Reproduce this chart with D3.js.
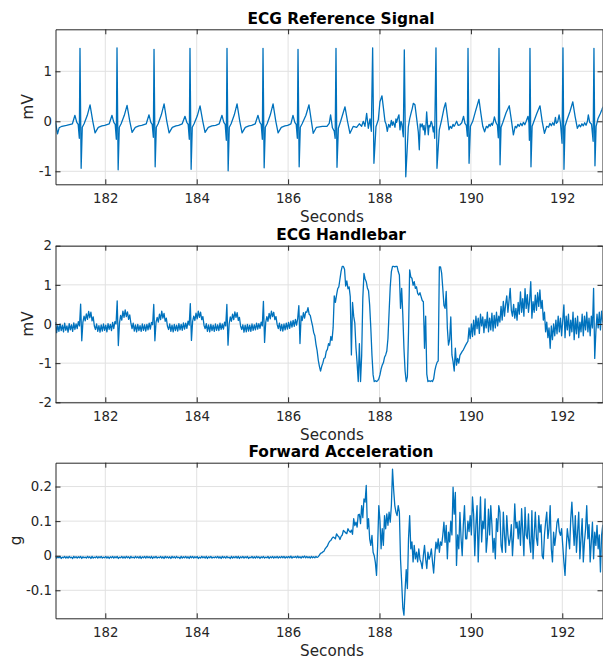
<!DOCTYPE html>
<html>
<head>
<meta charset="utf-8">
<script src="https://cdn.jsdelivr.net/npm/d3@7"></script>
<style>
  body { margin: 0; background: #ffffff; }
  svg { display: block; }
</style>
</head>
<body>
<svg id="chart" width="603" height="661"></svg>
<script>
// ---------------- DATA ----------------
const xTickValues = [182, 184, 186, 188, 190, 192];
const refTickValues = [-1, 0, 1];
const handlebarTickValues = [-2, -1, 0, 1, 2];
const accelTickValues = [-0.1, 0, 0.1, 0.2];
const panelTitles = ["ECG Reference Signal", "ECG Handlebar", "Forward Acceleration"];
const panelUnits = ["mV", "mV", "g"];
const timeLabel = "Seconds";

// ECG reference signal: [seconds, mV]
const ecgReference = [
[180.91,-0.02],[180.935,-0.15],[180.955,-0.25],[180.99,-0.13],[181.05,-0.1],[181.15,-0.08],[181.28,-0.05],[181.335,0.12],[181.376,-0.02],[181.406,-0.06],[181.431,-0.34],[181.446,1.46],[181.471,-0.94],[181.496,-0.12],[181.536,-0.05],[181.606,0.12],[181.666,0.33],[181.726,0.0],[181.776,-0.23],[181.846,-0.12],[181.926,-0.09],
[181.986,-0.08],[182.086,-0.05],[182.146,0.12],[182.186,-0.02],[182.216,-0.06],[182.241,-0.36],[182.256,1.47],[182.281,-0.97],[182.306,-0.12],[182.346,-0.05],[182.416,0.12],[182.476,0.32],[182.536,0.0],[182.586,-0.22],[182.656,-0.12],[182.736,-0.09],
[182.796,-0.08],[182.896,-0.05],[182.956,0.13],[182.996,-0.02],[183.026,-0.06],[183.051,-0.32],[183.066,1.44],[183.091,-0.91],[183.116,-0.12],[183.156,-0.05],[183.226,0.13],[183.286,0.35],[183.346,0.0],[183.396,-0.23],[183.466,-0.12],[183.546,-0.09],
[183.603,-0.08],[183.683,-0.05],[183.743,0.1],[183.783,-0.02],[183.813,-0.06],[183.838,-0.36],[183.853,1.46],[183.878,-0.96],[183.903,-0.12],[183.943,-0.05],[184.013,0.11],[184.073,0.31],[184.133,0.0],[184.183,-0.22],[184.253,-0.12],[184.333,-0.09],
[184.413,-0.08],[184.493,-0.05],[184.553,0.12],[184.593,-0.02],[184.623,-0.06],[184.648,-0.38],[184.663,1.46],[184.688,-0.99],[184.713,-0.12],[184.753,-0.05],[184.823,0.13],[184.883,0.35],[184.943,0.0],[184.993,-0.23],[185.063,-0.12],[185.143,-0.09],
[185.201,-0.08],[185.281,-0.05],[185.341,0.12],[185.381,-0.02],[185.411,-0.06],[185.436,-0.36],[185.451,1.46],[185.476,-0.93],[185.501,-0.12],[185.541,-0.05],[185.611,0.13],[185.671,0.35],[185.731,0.0],[185.781,-0.23],[185.851,-0.12],[185.931,-0.09],
[185.991,-0.08],[186.061,-0.05],[186.107,0.12],[186.147,-0.02],[186.177,-0.06],[186.202,-0.34],[186.217,1.44],[186.242,-0.91],[186.267,-0.12],[186.307,-0.05],[186.39,0.12],[186.457,0.33],[186.51,0.0],[186.55,-0.24],[186.62,-0.12],[186.75,-0.1],
[186.85,-0.1],[186.9,-0.04],[186.93,0.13],[186.97,-0.13],[187.01,-0.2],[187.03,-0.34],[187.048,1.46],[187.07,-0.92],[187.1,-0.14],[187.15,0.0],[187.245,0.29],[187.3,0.0],[187.354,-0.24],[187.427,-0.1],[187.5,-0.12],[187.558,-0.05],[187.609,-0.1],[187.646,0.0],[187.682,-0.1],[187.719,0.16],[187.755,-0.14],[187.792,0.05],[187.821,-0.2],
[187.85,1.47],[187.878,-0.84],[187.923,-0.11],[187.974,0.03],[188.01,0.39],[188.054,0.51],[188.083,0.29],[188.12,0.0],[188.145,-0.06],[188.171,-0.2],[188.2,-0.06],[188.229,-0.12],[188.26,0.02],[188.28,-0.08],[188.302,-0.01],[188.339,-0.12],[188.36,0.05],[188.375,-0.02],[188.405,0.08],[188.426,0.13],[188.448,-0.17],[188.47,0.0],[188.49,-0.06],[188.521,-0.31],[188.543,1.43],[188.575,-1.11],[188.631,-0.11],[188.66,0.05],[188.689,0.16],[188.715,0.25],[188.74,0.36],[188.776,0.33],[188.813,0.06],[188.849,-0.21],[188.871,-0.57],[188.89,-0.05],[188.908,-0.11],[188.935,-0.05],[188.959,-0.17],[188.975,-0.08],[188.995,-0.27],[189.015,-0.1],[189.032,0.19],[189.05,-0.05],[189.068,-0.27],[189.085,-0.08],[189.105,-0.11],[189.13,0.0],[189.148,-0.04],[189.178,-0.21],[189.195,-0.1],[189.207,-0.34],[189.236,1.47],[189.258,-0.94],[189.309,-0.17],[189.36,0.03],[189.411,0.26],[189.447,0.37],[189.491,0.06],[189.52,-0.17],[189.55,-0.1],[189.579,-0.14],[189.61,-0.06],[189.63,-0.1],[189.652,-0.07],[189.688,0.0],[189.72,-0.08],[189.761,-0.07],
[189.8,-0.03],[189.84,0.1],[189.87,-0.04],[189.9,-0.08],[189.922,-0.3],[189.937,1.46],[189.96,-0.84],[189.99,-0.1],[190.04,0.0],[190.1,0.2],[190.177,0.44],[190.22,0.15],[190.26,-0.1],[190.3,-0.21],[190.34,-0.1],[190.37,-0.13],[190.4,-0.06],[190.42,-0.1],[190.45,-0.04],[190.47,-0.08],[190.49,-0.02],[190.515,0.09],[190.55,-0.03],[190.58,-0.08],[190.6,-0.33],[190.615,1.46],[190.638,-0.87],[190.66,-0.12],[190.7,-0.02],[190.77,0.17],[190.84,0.31],[190.89,0.0],[190.93,-0.27],[190.97,-0.1],[191.0,-0.13],[191.03,-0.06],[191.06,-0.1],[191.09,-0.04],[191.12,-0.09],[191.15,-0.02],[191.18,-0.07],[191.21,0.0],[191.25,0.1],[191.27,-0.03],[191.28,-0.38],[191.293,1.46],[191.315,-0.91],[191.34,-0.1],[191.38,0.0],[191.44,0.15],[191.512,0.31],[191.56,0.0],[191.61,-0.24],[191.66,-0.1],[191.7,-0.12],[191.73,-0.04],[191.76,-0.09],[191.79,-0.03],[191.82,-0.08],[191.85,0.08],[191.87,-0.04],[191.9,-0.01],[191.93,0.13],[191.96,-0.03],[191.995,-0.44],[192.015,1.47],[192.037,-0.96],[192.06,-0.1],[192.1,0.02],[192.17,0.2],[192.23,0.39],[192.28,0.1],[192.33,-0.14],[192.37,-0.07],[192.4,-0.11],[192.43,-0.05],[192.46,-0.09],[192.49,-0.03],[192.52,-0.08],[192.55,0.0],[192.57,0.13],[192.6,-0.02],[192.64,-0.06],[192.675,-0.4],[192.693,1.46],[192.715,-0.89],[192.74,-0.1],[192.78,0.05],[192.83,0.15],[192.87,0.24],[192.89,0.29]
];

// Uniformly sampled signals (first sample time and sample interval in seconds)
const sampleStart = 180.91;
const sampleStep = 0.025;

// ECG handlebar, mV
const handlebarMV = [
0.05,-0.22,-0.04,-0.19,0.0,-0.17,-0.03,-0.2,0.02,-0.16,-0.05,-0.21,0.01,-0.15,-0.02,-0.19,0.03,-0.14,0.0,-0.12,
0.06,-0.05,0.51,-0.43,0.05,0.2,0.08,0.26,0.12,0.32,0.16,0.3,0.08,0.18,-0.05,-0.14,0.0,-0.19,-0.04,-0.21,
-0.02,-0.18,0.0,-0.16,-0.03,-0.2,0.01,-0.14,-0.01,-0.17,0.04,-0.12,0.06,0.0,0.59,-0.55,0.02,0.22,0.1,0.33,
0.17,0.36,0.19,0.31,0.12,0.23,0.02,-0.12,0.02,-0.18,-0.02,-0.2,-0.01,-0.17,-0.04,-0.19,0.0,-0.16,-0.02,-0.18,
-0.01,-0.15,0.02,-0.13,0.04,-0.02,0.5,-0.43,0.05,0.17,0.05,0.25,0.11,0.33,0.15,0.27,0.07,0.15,-0.06,-0.14,
0.0,-0.19,-0.03,-0.2,-0.01,-0.17,-0.03,-0.18,0.01,-0.15,-0.01,-0.16,0.03,-0.13,0.02,-0.11,0.07,-0.03,0.52,-0.42,
0.06,0.2,0.09,0.28,0.13,0.33,0.17,0.3,0.11,0.19,-0.03,-0.12,0.01,-0.19,-0.02,-0.2,-0.01,-0.17,-0.03,-0.19,
0.0,-0.16,-0.02,-0.17,0.02,-0.14,0.0,-0.13,0.05,-0.05,0.5,-0.54,0.0,0.18,0.07,0.25,0.11,0.31,0.17,0.29,
0.09,0.17,-0.05,-0.14,-0.02,-0.21,-0.03,-0.2,-0.01,-0.18,-0.03,-0.19,0.0,-0.16,-0.02,-0.15,0.02,-0.13,0.01,-0.11,
0.05,-0.05,0.58,-0.47,0.04,0.19,0.07,0.27,0.13,0.33,0.19,0.3,0.11,0.19,-0.01,-0.12,0.02,-0.17,-0.01,-0.18,
0.0,-0.15,0.02,-0.13,0.04,-0.11,0.07,-0.08,0.09,-0.06,0.12,-0.03,0.14,0.47,-0.5,0.21,0.09,0.29,0.15,0.31,
0.3,0.42,0.25,0.22,0.08,-0.05,-0.22,-0.3,-0.52,-0.68,-0.92,-1.08,-1.2,-1.08,-1.0,-0.88,-0.86,-0.7,-0.65,-0.5,
-0.55,-0.32,-0.42,-0.1,0.72,0.55,0.74,0.9,0.95,1.15,1.35,1.47,1.47,1.4,0.97,1.1,0.9,0.95,0.7,-0.79,
0.55,0.2,0.02,-0.6,-1.0,-1.47,-0.5,-1.47,-0.8,0.66,1.29,1.15,1.08,0.92,0.85,0.48,-0.1,-0.79,-1.3,-1.47,
-1.45,-1.47,-1.45,-1.4,-1.3,-1.15,-1.05,-0.99,-0.85,-0.79,-0.69,-0.37,0.3,0.95,1.34,1.47,1.47,1.46,1.47,1.47,
1.34,1.25,0.4,0.91,0.24,-0.62,-1.2,-1.47,-1.35,-0.2,1.38,1.2,1.17,0.99,1.08,0.91,0.95,0.78,0.74,0.8,
0.7,0.6,0.57,-0.62,0.2,-1.28,-1.47,-1.45,-1.47,-1.45,-1.47,-1.4,-1.2,-1.07,-0.98,-0.94,1.46,1.46,1.3,0.91,
0.48,0.4,0.83,-0.11,-0.54,-0.4,0.18,-0.79,-0.96,-1.2,-0.62,-1.05,-0.88,-1.0,-0.8,-0.75,-0.7,-0.66,-0.6,-0.54,
-0.49,-0.44,-0.1,-0.37,0.0,-0.32,0.1,-0.28,0.2,-0.12,0.15,-0.24,0.25,-0.05,0.18,-0.22,0.12,-0.1,0.3,-0.2,
0.15,-0.15,0.28,-0.18,0.22,-0.1,0.3,-0.05,0.2,0.05,0.45,0.1,0.58,0.2,0.5,0.72,0.3,0.6,0.91,0.35,
0.2,0.5,0.15,0.4,0.1,0.55,0.25,0.82,0.3,0.65,0.2,0.9,0.4,0.75,0.3,0.6,1.08,0.15,0.57,0.3,
0.74,0.35,0.8,0.45,0.87,0.4,0.6,0.1,0.3,-0.2,0.05,-0.35,-0.1,-0.62,-0.05,-0.4,0.0,-0.3,0.1,-0.25,
0.2,-0.2,0.15,-0.3,0.1,0.49,-0.35,0.2,-0.15,0.25,-0.3,0.1,-0.2,0.3,-0.4,0.15,-0.25,0.2,-0.35,0.05,
-0.2,0.25,-0.3,0.2,-0.15,0.3,-0.2,0.15,-0.3,0.2,-0.1,0.91,-0.88,-0.2,0.25,-0.1,0.3,-0.15,0.33,0.05,
0.1
];

// Forward acceleration, g
const accelG = [
-0.002,-0.007,-0.003,-0.006,-0.002,-0.008,-0.004,-0.006,-0.002,-0.007,-0.003,-0.007,-0.002,-0.006,-0.004,-0.008,-0.002,-0.006,-0.003,-0.007,
-0.003,-0.006,-0.002,-0.008,-0.003,-0.006,-0.004,-0.007,-0.002,-0.006,-0.003,-0.008,-0.002,-0.007,-0.004,-0.006,-0.002,-0.007,-0.003,-0.006,
-0.002,-0.007,-0.004,-0.006,-0.002,-0.007,-0.003,-0.008,-0.003,-0.006,-0.002,-0.007,-0.003,-0.006,-0.002,-0.008,-0.004,-0.006,-0.002,-0.007,
-0.003,-0.007,-0.002,-0.006,-0.003,-0.008,-0.002,-0.006,-0.004,-0.007,-0.002,-0.006,-0.003,-0.007,-0.002,-0.008,-0.003,-0.006,-0.002,-0.007,
-0.002,-0.006,-0.003,-0.007,-0.002,-0.008,-0.003,-0.006,-0.002,-0.007,-0.004,-0.006,-0.002,-0.007,-0.003,-0.008,-0.002,-0.006,-0.003,-0.007,
-0.003,-0.008,-0.002,-0.006,-0.003,-0.007,-0.002,-0.006,-0.004,-0.008,-0.002,-0.007,-0.003,-0.006,-0.002,-0.007,-0.003,-0.008,-0.002,-0.006,
-0.002,-0.007,-0.003,-0.006,-0.002,-0.008,-0.004,-0.007,-0.002,-0.006,-0.003,-0.007,-0.002,-0.008,-0.003,-0.006,-0.002,-0.007,-0.004,-0.006,
-0.003,-0.006,-0.002,-0.007,-0.003,-0.008,-0.002,-0.006,-0.003,-0.007,-0.002,-0.006,-0.004,-0.008,-0.002,-0.007,-0.003,-0.006,-0.002,-0.007,
-0.002,-0.008,-0.003,-0.006,-0.002,-0.007,-0.003,-0.006,-0.002,-0.008,-0.004,-0.006,-0.002,-0.007,-0.003,-0.007,-0.002,-0.006,-0.003,-0.008,
-0.003,-0.006,-0.002,-0.007,-0.004,-0.006,-0.002,-0.008,-0.003,-0.006,-0.002,-0.007,-0.003,-0.006,-0.002,-0.007,-0.003,-0.006,-0.002,-0.006,
-0.002,-0.007,-0.003,-0.006,-0.002,-0.006,-0.001,-0.007,-0.003,-0.005,-0.002,-0.006,-0.001,-0.006,-0.003,-0.007,-0.002,-0.005,-0.001,-0.006,
-0.002,-0.006,-0.003,-0.007,-0.002,-0.006,-0.003,-0.006,-0.002,-0.005,-0.003,0.002,0.007,0.008,0.011,0.013,0.02,0.024,0.028,0.036,
0.042,0.044,0.05,0.054,0.052,0.049,0.063,0.058,0.055,0.047,0.056,0.06,0.073,0.07,0.066,0.064,0.078,0.072,0.068,0.074,
0.062,0.107,0.087,0.097,0.083,0.118,0.12,0.093,0.145,0.11,0.164,0.155,0.203,0.078,0.107,0.049,0.03,0.059,0.01,0.0,
-0.02,-0.057,0.03,0.145,0.102,0.02,0.078,0.03,0.116,0.078,0.121,0.088,0.126,0.097,0.145,0.25,0.19,0.145,0.126,0.116,
0.145,0.126,-0.01,-0.076,-0.15,-0.172,-0.1,-0.04,-0.095,0.049,0.116,0.02,0.04,-0.018,0.03,-0.009,0.01,-0.018,0.02,-0.01,
-0.02,-0.037,0.0,0.03,-0.01,-0.037,0.01,-0.01,0.0,0.02,-0.018,-0.05,0.0,0.039,0.02,0.049,0.01,0.04,0.03,0.06,
0.097,0.039,0.088,-0.009,0.068,0.04,0.1,0.06,0.198,0.12,0.183,-0.028,0.06,0.02,0.125,0.05,0.0,0.09,0.145,0.049,
0.049,0.1,0.07,0.116,0.06,0.17,0.12,0.0,0.09,0.145,-0.018,0.08,0.17,0.04,0.1,0.078,0.164,0.01,0.05,0.135,
0.06,0.145,0.09,0.01,0.05,-0.009,0.107,0.07,0.145,0.126,0.03,0.01,0.126,0.06,0.01,0.116,0.06,0.03,0.049,0.09,
0.0,0.06,0.15,0.08,0.097,0.049,0.1,0.03,0.136,0.07,0.0,0.14,0.06,0.049,0.121,0.04,0.01,0.13,-0.009,0.06,
0.126,0.05,0.03,0.116,0.068,0.09,0.0,-0.009,0.06,0.097,0.126,0.05,0.078,0.145,0.02,-0.018,0.068,0.03,0.06,0.097,
0.107,0.07,0.059,0.078,0.03,-0.018,-0.057,0.02,0.078,0.05,0.02,0.107,0.155,0.09,0.03,0.116,0.01,0.07,0.126,-0.009,
0.05,0.107,-0.018,0.04,0.078,0.145,0.049,0.09,-0.018,0.04,0.097,-0.009,0.068,0.03,0.088,0.02,0.06,-0.047,0.059,0.088,
0.02
];

// ---------------- LAYOUT / STYLE ----------------
const W = 603, H = 661;
const plotLeft = 55.5, plotRight = 602.5;
const xDomain = [180.91, 192.88];
const lineColor = "#0072bd";
const inkColor = "#262626";
const gridColor = "#e1e1e1";
const fontFamily = "'DejaVu Sans', 'Liberation Sans', sans-serif";
const titleCenterX = 341;
const labelCenterX = 332;

const toPoints = (vals) => vals.map((v, i) => [sampleStart + i * sampleStep, v]);

const panels = [
  { title: panelTitles[0], unit: panelUnits[0], top: 29.3, bottom: 184.3, yDomain: [-1.26, 1.84], yTicks: refTickValues, points: ecgReference, unitX: 33 },
  { title: panelTitles[1], unit: panelUnits[1], top: 245.7, bottom: 402.3, yDomain: [-2, 2], yTicks: handlebarTickValues, points: toPoints(handlebarMV), unitX: 33 },
  { title: panelTitles[2], unit: panelUnits[2], top: 462.7, bottom: 618.3, yDomain: [-0.181, 0.269], yTicks: accelTickValues, points: toPoints(accelG), unitX: 21 }
];

const svg = d3.select("#chart");
svg.append("rect").attr("width", W).attr("height", H).attr("fill", "#ffffff");

const x = d3.scaleLinear().domain(xDomain).range([plotLeft, plotRight]);
const fmt = (d) => String(d);

panels.forEach((p, idx) => {
  const y = d3.scaleLinear().domain(p.yDomain).range([p.bottom, p.top]);
  const g = svg.append("g");

  // grid
  g.append("g").selectAll("line").data(xTickValues).join("line")
    .attr("x1", d => x(d)).attr("x2", d => x(d))
    .attr("y1", p.top).attr("y2", p.bottom)
    .attr("stroke", gridColor).attr("stroke-width", 1);
  g.append("g").selectAll("line").data(p.yTicks).join("line")
    .attr("x1", plotLeft).attr("x2", plotRight)
    .attr("y1", d => y(d)).attr("y2", d => y(d))
    .attr("stroke", gridColor).attr("stroke-width", 1);

  // clip
  const clipId = "clip" + idx;
  svg.append("clipPath").attr("id", clipId).append("rect")
    .attr("x", plotLeft).attr("y", p.top)
    .attr("width", plotRight - plotLeft).attr("height", p.bottom - p.top);

  // signal line
  const line = d3.line().x(d => x(d[0])).y(d => y(d[1]));
  g.append("path").datum(p.points)
    .attr("clip-path", `url(#${clipId})`)
    .attr("fill", "none").attr("stroke", lineColor)
    .attr("stroke-width", 1.3).attr("stroke-linejoin", "round")
    .attr("d", line);

  // axes (MATLAB style: ticks pointing inward on all four sides)
  const styleAxis = (sel) => {
    sel.attr("font-family", fontFamily).attr("font-size", 13.3);
    sel.selectAll("path.domain").attr("stroke", inkColor).attr("stroke-width", 1);
    sel.selectAll(".tick line").attr("stroke", inkColor);
    sel.selectAll(".tick text").attr("fill", inkColor);
  };
  g.append("g").attr("transform", `translate(0,${p.bottom})`)
    .call(d3.axisBottom(x).tickValues(xTickValues).tickSizeInner(-5).tickSizeOuter(0).tickPadding(8.8).tickFormat(fmt))
    .call(styleAxis);
  g.append("g").attr("transform", `translate(0,${p.top})`)
    .call(d3.axisTop(x).tickValues(xTickValues).tickSizeInner(-5).tickSizeOuter(0).tickFormat(() => ""))
    .call(styleAxis);
  g.append("g").attr("transform", `translate(${plotLeft},0)`)
    .call(d3.axisLeft(y).tickValues(p.yTicks).tickSizeInner(-5).tickSizeOuter(0).tickPadding(3.5).tickFormat(fmt))
    .call(styleAxis);
  g.append("g").attr("transform", `translate(${plotRight},0)`)
    .call(d3.axisRight(y).tickValues(p.yTicks).tickSizeInner(-5).tickSizeOuter(0).tickFormat(() => ""))
    .call(styleAxis);

  // title
  svg.append("text")
    .attr("x", titleCenterX).attr("y", p.top - 5.3)
    .attr("text-anchor", "middle")
    .attr("font-family", fontFamily).attr("font-size", 15.4).attr("font-weight", "bold")
    .attr("fill", "#000000")
    .text(p.title);

  // x label
  svg.append("text")
    .attr("x", labelCenterX).attr("y", p.bottom + 37.2)
    .attr("text-anchor", "middle")
    .attr("font-family", fontFamily).attr("font-size", 15.2)
    .attr("fill", inkColor)
    .text(timeLabel);

  // y label
  svg.append("text")
    .attr("transform", `translate(${p.unitX},${(p.top + p.bottom) / 2}) rotate(-90)`)
    .attr("text-anchor", "middle")
    .attr("font-family", fontFamily).attr("font-size", 15.2)
    .attr("fill", inkColor)
    .text(p.unit);
});
</script>
</body>
</html>
